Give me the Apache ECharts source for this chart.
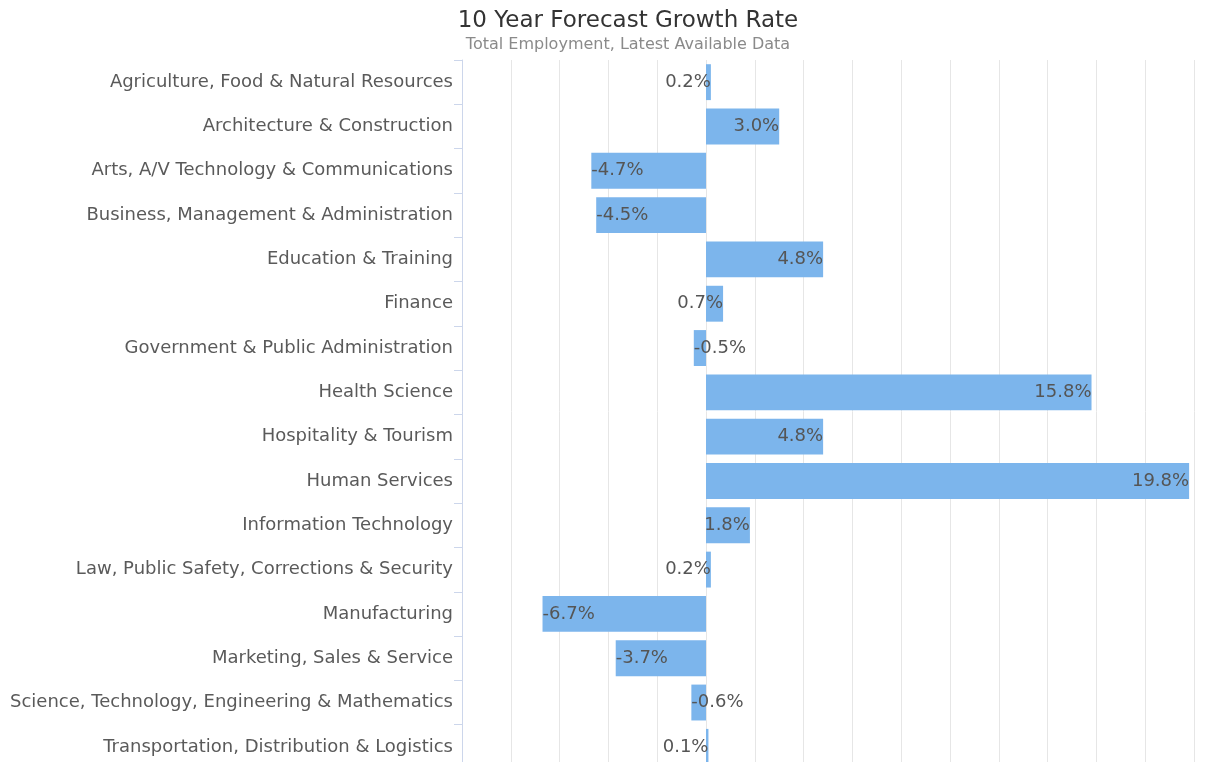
<!DOCTYPE html>
<html>
<head>
<meta charset="utf-8">
<title>10 Year Forecast Growth Rate</title>
<script src="https://cdn.jsdelivr.net/npm/echarts@6/dist/echarts.min.js"></script>
<style>
	html, body { margin: 0; padding: 0; background: #fff; }
	#chart { width: 1228px; height: 762px; }
</style>
</head>
<body>
<div id="chart"></div>
<script>
	var clusters = [ "Agriculture, Food & Natural Resources", "Architecture & Construction",
			"Arts, A/V Technology & Communications", "Business, Management & Administration",
			"Education & Training", "Finance", "Government & Public Administration", "Health Science",
			"Hospitality & Tourism", "Human Services", "Information Technology",
			"Law, Public Safety, Corrections & Security", "Manufacturing", "Marketing, Sales & Service",
			"Science, Technology, Engineering & Mathematics", "Transportation, Distribution & Logistics" ];
	var growthRates = [ 0.2, 3.0, -4.7, -4.5, 4.8, 0.7, -0.5, 15.8, 4.8, 19.8, 1.8, 0.2, -6.7, -3.7, -0.6, 0.1 ];
	var axisMin = -10;
	var axisMax = 20;
	var axisStep = 2;

	var fontName = "DejaVu Sans";

	// negative bars get their label at the left end, positive ones at the right end
	function getBarData(values) {
		var data = [];
		for (var i = 0; i < values.length; i++) {
			data.push({
				value : values[i],
				label : {
					position : values[i] < 0 ? "insideLeft" : "insideRight"
				}
			});
		}
		return data;
	}

	var chart = echarts.init(document.getElementById("chart"));
	chart.setOption({
		animation : false,
		title : {
			text : "10 Year Forecast Growth Rate",
			subtext : "Total Employment, Latest Available Data",
			left : 623,
			textAlign : "center",
			top : 5,
			itemGap : 4,
			textStyle : {
				fontFamily : fontName,
				fontSize : 23,
				fontWeight : "normal",
				color : "#333333"
			},
			subtextStyle : {
				fontFamily : fontName,
				fontSize : 16,
				color : "#8a8a8a"
			}
		},
		grid : {
			left : 462,
			right : 34,
			top : 60,
			height : 709,
			containLabel : false,
			outerBoundsMode : "none"
		},
		xAxis : {
			type : "value",
			min : axisMin,
			max : axisMax,
			interval : axisStep,
			axisLabel : {
				show : false
			},
			axisLine : {
				show : false
			},
			axisTick : {
				show : false
			},
			splitLine : {
				lineStyle : {
					color : "#e6e6e6",
					width : 1
				}
			}
		},
		yAxis : {
			type : "category",
			data : clusters,
			inverse : true,
			axisLine : {
				onZero : false,
				lineStyle : {
					color : "#ccd6eb"
				}
			},
			axisTick : {
				show : true,
				length : 8,
				lineStyle : {
					color : "#ccd6eb"
				}
			},
			axisLabel : {
				margin : 9,
				fontFamily : fontName,
				fontSize : 18,
				color : "#5a5a5a"
			}
		},
		series : [ {
			type : "bar",
			data : getBarData(growthRates),
			barCategoryGap : "19%",
			itemStyle : {
				color : "#7cb5ec"
			},
			label : {
				show : true,
				distance : 0,
				fontFamily : fontName,
				fontSize : 18,
				color : "#555555",
				formatter : function(p) {
					return p.value.toFixed(1) + "%";
				}
			}
		} ]
	});
</script>
</body>
</html>
